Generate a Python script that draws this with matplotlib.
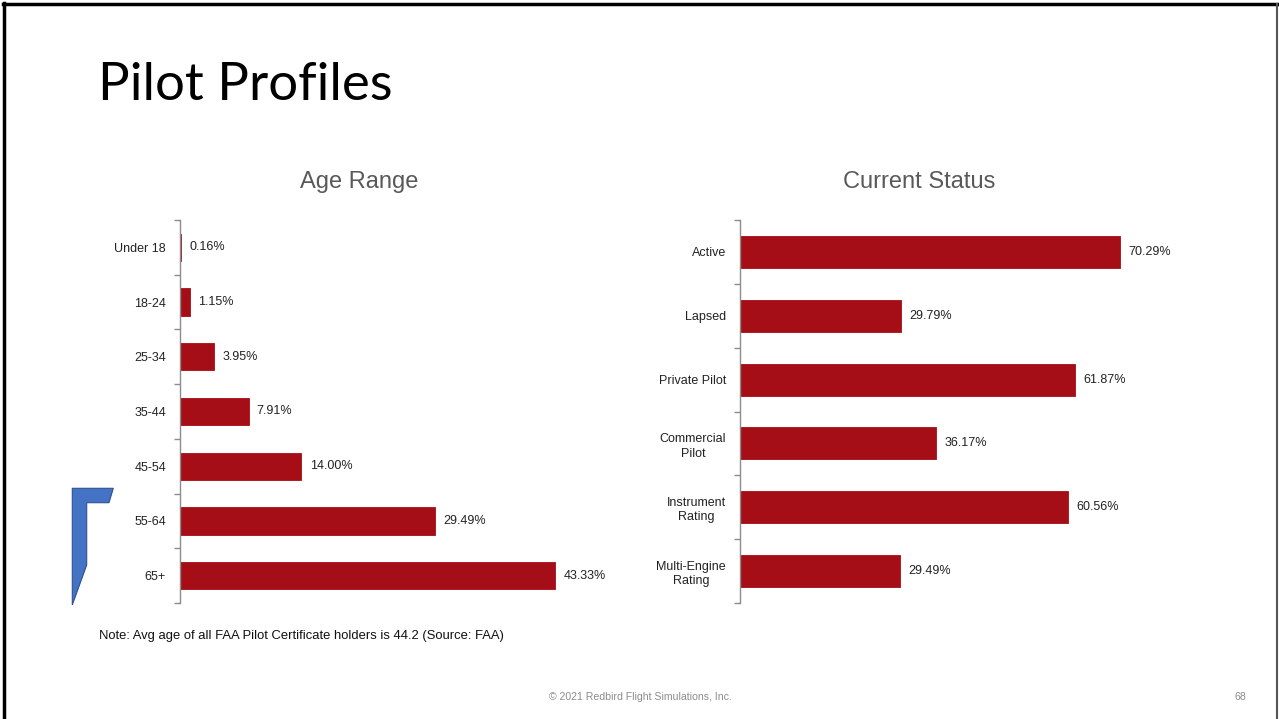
import matplotlib
matplotlib.use('Agg')
import matplotlib.pyplot as plt
from matplotlib.patches import Polygon
from matplotlib.lines import Line2D

# data
age_labels = ['Under 18', '18-24', '25-34', '35-44', '45-54', '55-64', '65+']
age_values = [0.16, 1.15, 3.95, 7.91, 14.00, 29.49, 43.33]
status_labels = ['Active', 'Lapsed', 'Private Pilot', 'Commercial\nPilot',
                 'Instrument\nRating', 'Multi-Engine\nRating']
status_values = [70.29, 29.79, 61.87, 36.17, 60.56, 29.49]

BAR = '#A50E16'
AXC = '#8C8C8C'
W, H = 1279, 719

plt.rcParams['font.family'] = ['Liberation Sans', 'DejaVu Sans']

fig = plt.figure(figsize=(W / 100, H / 100), dpi=100)
fig.patch.set_facecolor('white')

def px(x, y):
    return x / W, 1 - y / H

def draw_bars(ax, labels, values, xmax):
    n = len(labels)
    ax.barh(range(n), values, height=0.5, color=BAR, edgecolor=BAR, linewidth=0.6)
    ax.set_ylim(n - 0.5, -0.5)
    ax.set_xlim(0, xmax)
    for s in ['top', 'right', 'bottom']:
        ax.spines[s].set_visible(False)
    ax.spines['left'].set_color(AXC)
    ax.spines['left'].set_linewidth(1)
    ax.set_xticks([])
    ax.set_yticks(range(n))
    ax.set_yticklabels(labels, fontsize=9, color='#222222')
    ax.set_yticks([i - 0.5 for i in range(n + 1)], minor=True)
    ax.tick_params(axis='y', which='major', length=0, pad=10)
    ax.tick_params(axis='y', which='minor', length=4, color=AXC, width=1)
    for t in ax.get_yticklabels():
        t.set_multialignment('center')
        t.set_linespacing(1.3)
    for i, v in enumerate(values):
        ax.annotate(f'{v:.2f}%', (v, i), xytext=(6, 0), textcoords='offset points',
                    ha='left', va='center', fontsize=9, color='#222222')

l, b = px(180, 603)
ax1 = fig.add_axes([l, b, 433 / W, 383 / H])
draw_bars(ax1, age_labels, age_values, 50)

l, b = px(740, 603)
ax2 = fig.add_axes([l, b, 433 / W, 383 / H])
draw_bars(ax2, status_labels, status_values, 80)

# chart titles
fig.text(*px(359, 182), 'Age Range', fontsize=17, color='#595959', ha='center', va='center')
fig.text(*px(919, 182), 'Current Status', fontsize=17, color='#595959', ha='center', va='center')

# slide title and notes
fig.text(*px(98, 85), 'Pilot Profiles', fontsize=38, family=['Lato', 'DejaVu Sans'],
         ha='left', va='center', color='black')
fig.text(*px(99, 636), 'Note: Avg age of all FAA Pilot Certificate holders is 44.2 (Source: FAA)',
         fontsize=9.4, ha='left', va='center', color='#111111')
fig.text(*px(640, 697), '© 2021 Redbird Flight Simulations, Inc.', fontsize=7.6,
         ha='center', va='center', color='#8C8C8C')
fig.text(*px(1240, 697), '68', fontsize=7.6, ha='center', va='center', color='#8C8C8C')

# blue decorative shape
pts = [(72.3, 488.3), (113.3, 488.3), (109, 502.7), (86.7, 502.7), (86.7, 565), (72.3, 605)]
fig.patches.append(Polygon([px(x, y) for x, y in pts], closed=True, transform=fig.transFigure,
                           facecolor='#4472C4', edgecolor='#2F528F', linewidth=0.8))

# slide frame
fig.lines.append(Line2D([px(4, 0)[0], px(4, 0)[0]], [0, px(0, 3)[1]], transform=fig.transFigure,
                        color='black', linewidth=2.5))
fig.lines.append(Line2D([px(3, 0)[0], px(1277, 0)[0]], [px(0, 4)[1], px(0, 4)[1]],
                        transform=fig.transFigure, color='black', linewidth=2.5))
fig.lines.append(Line2D([px(1277, 0)[0], px(1277, 0)[0]], [0, px(0, 4)[1]],
                        transform=fig.transFigure, color='#555555', linewidth=1.5))

fig.savefig('out.png', dpi=100)
